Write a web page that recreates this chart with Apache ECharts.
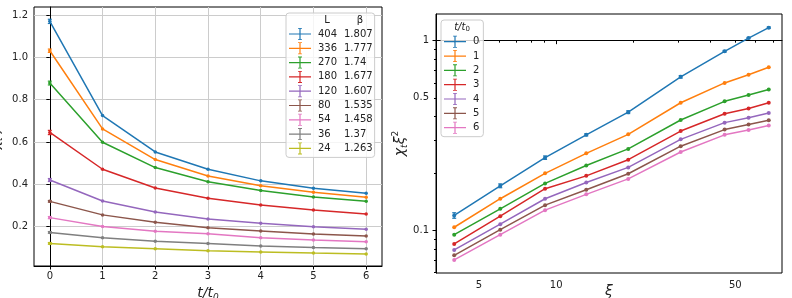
<!DOCTYPE html>
<html>
<head>
<meta charset="utf-8">
<script src="https://cdn.jsdelivr.net/npm/echarts@6/dist/echarts.min.js"></script>
<style>html,body{margin:0;padding:0;background:#fff}#c{width:792px;height:298px}</style>
</head>
<body>
<div id="c"></div>
<script>
// ---- data ----
const tSteps = [0, 1, 2, 3, 4, 5, 6];
const Ls = ['404', '336', '270', '180', '120', '80', '54', '36', '24'];
const betas = ['1.807', '1.777', '1.74', '1.677', '1.607', '1.535', '1.458', '1.37', '1.263'];
const xiVals = [67.5, 56.3, 45.4, 30.6, 19.1, 13.1, 9.05, 6.05, 4.0];
const chi404 = [1.171, 0.725, 0.553, 0.471, 0.416, 0.381, 0.357];
const chi336 = [1.032, 0.662, 0.517, 0.439, 0.393, 0.362, 0.338];
const chi270 = [0.879, 0.599, 0.479, 0.412, 0.370, 0.340, 0.319];
const chi180 = [0.645, 0.471, 0.382, 0.334, 0.302, 0.278, 0.259];
const chi120 = [0.420, 0.321, 0.269, 0.236, 0.215, 0.199, 0.187];
const chi80  = [0.319, 0.255, 0.220, 0.194, 0.179, 0.164, 0.155];
const chi54  = [0.242, 0.200, 0.177, 0.166, 0.147, 0.136, 0.128];
const chi36  = [0.172, 0.147, 0.130, 0.119, 0.108, 0.101, 0.095];
const chi24  = [0.120, 0.104, 0.095, 0.085, 0.079, 0.074, 0.070];
const errT0 = [0.010, 0.008, 0.009, 0.010, 0.007, 0.004, 0.005, 0.004, 0.004];
const xTicksLeft = [0, 1, 2, 3, 4, 5, 6];
const yTicksLeft = [0.2, 0.4, 0.6, 0.8, 1.0, 1.2];
const xiTickLabels = [5, 10, 50];
const xiMajorTicks = [10];
const xiMinorTicks = [4, 5, 6, 7, 8, 9, 20, 30, 40, 50, 60, 70];
const yRightLabels = [0.1, 0.5, 1];
const yRightMajor = [0.1, 1];
const yRightMinor = [0.06, 0.07, 0.08, 0.09, 0.2, 0.3, 0.4, 0.5, 0.6, 0.7, 0.8, 0.9];

// ---- build ----
const chiByL = [chi404, chi336, chi270, chi180, chi120, chi80, chi54, chi36, chi24];
const colors = ['#1f77b4', '#ff7f0e', '#2ca02c', '#d62728', '#9467bd', '#8c564b', '#e377c2', '#7f7f7f', '#bcbd22'];
const lg = Math.log10;
const FONT = 'DejaVu Sans';
const TXT = '#222';
const ICON = 'path://M0,5.4H22V6.6H0Z M10.4,0H11.6V12H10.4Z M9,0H13V0.8H9Z M9,11.2H13V12H9Z';
const betaOf = {};
Ls.forEach((l, i) => betaOf[l] = betas[i]);

const series = [];
Ls.forEach((l, i) => {
  series.push({
    type: 'line', name: l, xAxisIndex: 0, yAxisIndex: 0,
    data: tSteps.map((t, j) => [t, chiByL[i][j]]),
    color: colors[i], lineStyle: { width: 1.5 }, symbol: 'circle', symbolSize: 3.5,
    itemStyle: { color: colors[i], borderWidth: 0 }, animation: false
  });
});
function errRender(params, api) {
  const x = api.value(0), lo = api.value(1), hi = api.value(2);
  const p1 = api.coord([x, lo]), p2 = api.coord([x, hi]);
  const c = colors[api.value(3)];
  const st = { stroke: c, lineWidth: 1.2 };
  return { type: 'group', children: [
    { type: 'line', shape: { x1: p1[0], y1: p1[1], x2: p2[0], y2: p2[1] }, style: st },
    { type: 'line', shape: { x1: p1[0] - 2, y1: p1[1], x2: p1[0] + 2, y2: p1[1] }, style: st },
    { type: 'line', shape: { x1: p2[0] - 2, y1: p2[1], x2: p2[0] + 2, y2: p2[1] }, style: st }
  ]};
}
series.push({
  type: 'custom', xAxisIndex: 0, yAxisIndex: 0, renderItem: errRender, z: 3,
  data: Ls.map((l, i) => [0, chiByL[i][0] - errT0[i], chiByL[i][0] + errT0[i], i]),
  encode: { x: 0, y: [1, 2] }, silent: true, animation: false
});
tSteps.forEach((t, j) => {
  series.push({
    type: 'line', name: String(t), xAxisIndex: 1, yAxisIndex: 1,
    data: Ls.map((l, i) => [lg(xiVals[i]), lg(chiByL[i][j])]),
    color: colors[j], lineStyle: { width: 1.5 }, symbol: 'circle', symbolSize: 4,
    itemStyle: { color: colors[j], borderWidth: 0 }, animation: false
  });
});
series.push({
  type: 'custom', xAxisIndex: 1, yAxisIndex: 1, renderItem: errRender, z: 3,
  data: Ls.map((l, i) => [lg(xiVals[i]), lg(chiByL[i][0] - errT0[i]), lg(chiByL[i][0] + errT0[i]), 0]),
  encode: { x: 0, y: [1, 2] }, silent: true, animation: false
});

const labelStyle = { color: TXT, fontFamily: FONT, fontSize: 10 };
const axLine = { show: true, lineStyle: { color: '#000', width: 1 } };
const nameRich = {
  a: { fontFamily: FONT, fontSize: 14, fontStyle: 'italic', color: TXT, lineHeight: 18 },
  s: { fontFamily: FONT, fontSize: 9, fontStyle: 'italic', color: TXT, lineHeight: 9, verticalAlign: 'bottom' },
  p: { fontFamily: FONT, fontSize: 9, color: TXT, lineHeight: 9, verticalAlign: 'top' }
};

const option = {
  animation: false,
  backgroundColor: '#fff',
  grid: [
    { left: 34, top: 7, right: 410, bottom: 32, containLabel: false, outerBoundsMode: 'none',
      show: true, borderColor: '#000', borderWidth: 1, backgroundColor: 'transparent' },
    { left: 436, top: 14, right: 10, bottom: 25, containLabel: false, outerBoundsMode: 'none',
      show: true, borderColor: '#000', borderWidth: 1, backgroundColor: 'transparent' }
  ],
  xAxis: [
    { type: 'value', gridIndex: 0, min: -0.3, max: 6.3, position: 'bottom',
      axisLine: axLine, axisTick: { show: true, length: 3.5, lineStyle: { color: '#000' }, customValues: xTicksLeft },
      axisLabel: Object.assign({ margin: 5, customValues: xTicksLeft, formatter: v => String(v) }, labelStyle),
      splitLine: { show: true, lineStyle: { color: '#cccccc', width: 1 } },
      name: '{a|t/t}{s|0}', nameLocation: 'middle', nameGap: 16, nameTextStyle: { rich: nameRich } },
    { type: 'value', gridIndex: 1, min: 0.531, max: 1.881, position: 'bottom',
      axisLine: axLine, axisTick: { show: true, length: 3.5, lineStyle: { color: '#000' }, customValues: xiMajorTicks.map(lg) },
      axisLabel: Object.assign({ margin: 7, customValues: xiTickLabels.map(lg), formatter: v => String(Math.round(Math.pow(10, v))) }, labelStyle),
      splitLine: { show: false },
      name: '{a|ξ}', nameLocation: 'middle', nameGap: 9, nameMoveOverlap: false, nameTextStyle: { rich: nameRich } },
    { type: 'value', gridIndex: 1, min: 0.531, max: 1.881, position: 'bottom',
      axisLine: { show: false }, axisLabel: { show: false }, splitLine: { show: false },
      axisTick: { show: true, length: 2, lineStyle: { color: '#000' }, customValues: xiMinorTicks.map(lg) } }
  ],
  yAxis: [
    { type: 'value', gridIndex: 0, min: 0.013, max: 1.239, position: 'left',
      axisLine: axLine, axisTick: { show: true, length: 3.5, lineStyle: { color: '#000' }, customValues: yTicksLeft },
      axisLabel: Object.assign({ margin: 6, customValues: yTicksLeft, formatter: v => v.toFixed(1) }, labelStyle),
      splitLine: { show: true, lineStyle: { color: '#cccccc', width: 1 } },
      name: '{a|χ}{s|t}{a|ξ}{p|2}', nameLocation: 'middle', nameGap: 30, nameTextStyle: { rich: nameRich } },
    { type: 'value', gridIndex: 1, min: -1.224, max: 0.1405, position: 'left',
      axisLine: axLine, axisTick: { show: true, length: 3.5, lineStyle: { color: '#000' }, customValues: yRightMajor.map(lg) },
      axisLabel: Object.assign({ margin: 7, customValues: yRightLabels.map(lg), formatter: v => String(parseFloat(Math.pow(10, v).toPrecision(2))) }, labelStyle),
      splitLine: { show: false },
      name: '{a|χ}{s|t}{a|ξ}{p|2}', nameLocation: 'middle', nameGap: 22, nameTextStyle: { rich: nameRich } },
    { type: 'value', gridIndex: 1, min: -1.224, max: 0.1405, position: 'left',
      axisLine: { show: false }, axisLabel: { show: false }, splitLine: { show: false },
      axisTick: { show: true, length: 2, lineStyle: { color: '#000' }, customValues: yRightMinor.map(lg) } }
  ],
  legend: [
    { data: Ls, orient: 'vertical', left: 286, top: 13, icon: ICON, itemWidth: 22, itemHeight: 12, itemGap: 2.3,
      padding: [15, 2, 3, 3], backgroundColor: 'rgba(255,255,255,0.8)', borderColor: '#cccccc', borderWidth: 1, borderRadius: 3,
      itemStyle: { borderWidth: 0 }, selectedMode: false,
      formatter: n => '{l|' + n + '}{b|' + betaOf[n] + '}',
      textStyle: { color: TXT, fontFamily: FONT, fontSize: 10,
        rich: { l: { width: 26, padding: [0, 0, 0, 2], fontFamily: FONT, fontSize: 10, color: TXT, lineHeight: 12 },
                b: { fontFamily: FONT, fontSize: 10, color: TXT, lineHeight: 12 } } } },
    { data: tSteps.map(String), orient: 'vertical', left: 441, top: 20, icon: ICON, itemWidth: 22, itemHeight: 12, itemGap: 2.33,
      padding: [15.7, 4, 3, 3], backgroundColor: 'rgba(255,255,255,0.8)', borderColor: '#cccccc', borderWidth: 1, borderRadius: 3,
      itemStyle: { borderWidth: 0 }, selectedMode: false,
      textStyle: { color: TXT, fontFamily: FONT, fontSize: 10, padding: [0, 0, 0, 2], lineHeight: 12 } }
  ],
  graphic: [
    { type: 'text', x: 327, y: 20, z: 100, style: { text: 'L', fill: TXT, font: '10px "DejaVu Sans"', align: 'center', verticalAlign: 'middle' } },
    { type: 'text', x: 360, y: 20, z: 100, style: { text: 'β', fill: TXT, font: '10px "DejaVu Sans"', align: 'center', verticalAlign: 'middle' } },
    { type: 'text', x: 462, y: 27, z: 100, style: { text: '{i|t/t}{s|0}', align: 'center', verticalAlign: 'middle',
      rich: { i: { fontFamily: FONT, fontSize: 10, fontStyle: 'italic', fill: TXT, lineHeight: 12 },
              s: { fontFamily: FONT, fontSize: 7, fill: TXT, lineHeight: 7, verticalAlign: 'bottom' } } } }
  ],
  series: series
};
const chart = echarts.init(document.getElementById('c'), null, { renderer: 'canvas' });
chart.setOption(option);
</script>
</body>
</html>
